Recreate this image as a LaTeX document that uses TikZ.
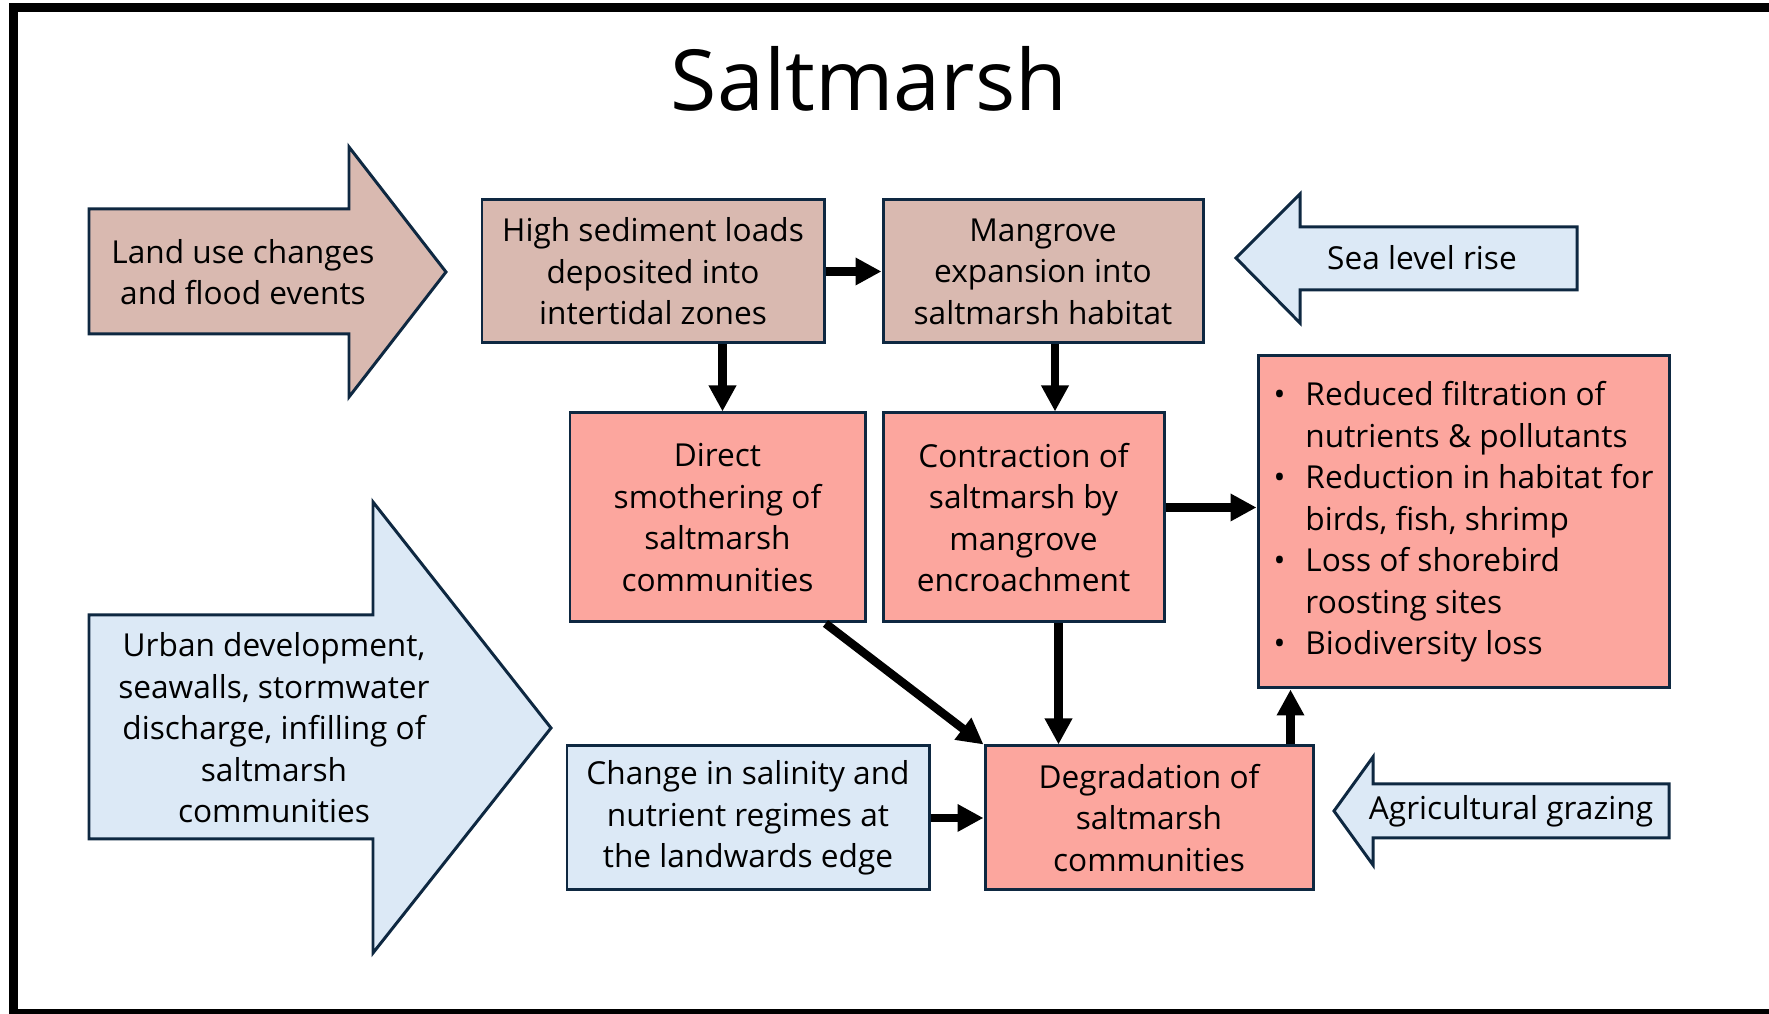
\documentclass[tikz,border=0pt]{standalone}
\usepackage{fontspec}
\setmainfont{Open Sans}
\usepackage{tikz}
\usetikzlibrary{arrows.meta}

\definecolor{tanfill}{HTML}{D9B9B0}
\definecolor{pinkfill}{HTML}{FCA69E}
\definecolor{bluefill}{HTML}{DCE9F6}
\definecolor{edgeblue}{HTML}{0E2841}

\begin{document}
\begin{tikzpicture}[
    box/.style={draw=edgeblue, line width=0.85pt, align=center, inner sep=0pt, font=\fontsize{9}{11.8}\selectfont},
    bigarrow/.style={draw=edgeblue, line width=0.85pt, line join=miter},
    txt/.style={align=center, font=\fontsize{9}{11.8}\selectfont},
    conn/.style={line width=2.4pt, -{Triangle[length=0.26cm, width=0.26cm]}}
]
    \useasboundingbox (0,0) rectangle (17.69,10.14);

    % Frame round the slide
    \draw[line width=0.09cm] (17.69,10.06) -- (0.13,10.06) -- (0.13,0.005) -- (17.69,0.005);

    % Title
    \node[font=\fontsize{24}{28}\selectfont] (title) at (8.69,9.35) {Saltmarsh};

    % Block arrows for the drivers
    \draw[bigarrow, fill=tanfill] (0.89,8.05) -- (3.49,8.05) -- (3.49,8.67) -- (4.46,7.42) -- (3.49,6.17) -- (3.49,6.80) -- (0.89,6.80) -- cycle;
    \node[txt] (landuse) at (2.43,7.42) {Land use changes\\and flood events};

    \draw[bigarrow, fill=bluefill] (15.77,7.87) -- (13.00,7.87) -- (13.00,8.20) -- (12.36,7.56) -- (13.00,6.91) -- (13.00,7.24) -- (15.77,7.24) -- cycle;
    \node[txt] (sealevel) at (14.22,7.56) {Sea level rise};

    \draw[bigarrow, fill=bluefill] (0.89,3.99) -- (3.73,3.99) -- (3.73,5.12) -- (5.51,2.86) -- (3.73,0.61) -- (3.73,1.75) -- (0.89,1.75) -- cycle;
    \node[txt] (urban) at (2.74,2.86) {Urban development,\\seawalls, stormwater\\discharge, infilling of\\saltmarsh\\communities};

    \draw[bigarrow, fill=bluefill] (16.69,2.30) -- (13.73,2.30) -- (13.73,2.57) -- (13.34,2.03) -- (13.73,1.49) -- (13.73,1.76) -- (16.69,1.76) -- cycle;
    \node[txt] (grazing) at (15.11,2.03) {Agricultural grazing};

    % Nodes for the boxes
    \node[box, fill=tanfill, minimum width=3.42cm, minimum height=1.43cm] (sediment) at (6.53,7.425) {High sediment loads\\deposited into\\intertidal zones};
    \node[box, fill=tanfill, minimum width=3.20cm, minimum height=1.43cm] (mangrove) at (10.43,7.425) {Mangrove\\expansion into\\saltmarsh habitat};
    \node[box, fill=pinkfill, minimum width=2.95cm, minimum height=2.09cm] (smother) at (7.175,4.965) {Direct\\smothering of\\saltmarsh\\communities};
    \node[box, fill=pinkfill, minimum width=2.81cm, minimum height=2.09cm] (contract) at (10.235,4.965) {Contraction of\\saltmarsh by\\mangrove\\encroachment};
    \node[box, fill=pinkfill, minimum width=4.11cm, minimum height=3.32cm] (effects) at (14.635,4.92) {%
        \begin{tabular}{@{}l@{\hspace{0.2cm}}l@{}}
            \textbullet & Reduced filtration of\\
                        & nutrients \& pollutants\\
            \textbullet & Reduction in habitat for\\
                        & birds, fish, shrimp\\
            \textbullet & Loss of shorebird\\
                        & roosting sites\\
            \textbullet & Biodiversity loss
        \end{tabular}};
    \node[box, fill=bluefill, minimum width=3.62cm, minimum height=1.44cm] (salinity) at (7.48,1.96) {Change in salinity and\\nutrient regimes at\\the landwards edge};
    \node[box, fill=pinkfill, minimum width=3.28cm, minimum height=1.44cm] (degrade) at (11.49,1.96) {Degradation of\\saltmarsh\\communities};

    % Arrows between the boxes
    \draw[conn] (sediment.east) -- (mangrove.west);
    \draw[conn] ([xshift=0.05cm]smother.north |- sediment.south) -- ([xshift=0.05cm]smother.north);
    \draw[conn] ([xshift=0.12cm]mangrove.south) -- ([xshift=0.12cm]mangrove.south |- contract.north);
    \draw[conn] ([yshift=0.1cm]contract.east) -- ([yshift=0.1cm]contract.east -| effects.west);
    \draw[conn] ([xshift=-0.41cm]smother.south east) -- (degrade.north west);
    \draw[conn] ([xshift=0.35cm]contract.south) -- ([xshift=0.35cm]contract.south |- degrade.north);
    \draw[conn] (salinity.east) -- (degrade.west);
    \draw[conn] ([xshift=-0.24cm]degrade.north east) -- ([xshift=-0.24cm]degrade.north east |- effects.south);
\end{tikzpicture}
\end{document}
